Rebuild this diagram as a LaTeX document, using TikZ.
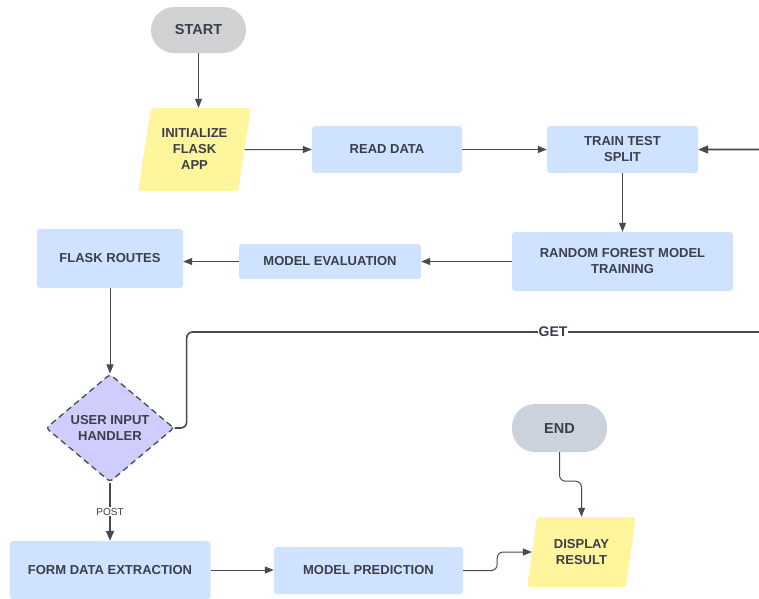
\documentclass[tikz,border=0pt]{standalone}
\usepackage{fontspec}
\setmainfont{Liberation Sans}
\usetikzlibrary{positioning,arrows.meta,shapes.geometric}

\definecolor{boxblue}{RGB}{207,226,255}
\definecolor{ioyellow}{RGB}{255,245,157}
\definecolor{startgray}{RGB}{208,209,211}
\definecolor{endgray}{RGB}{204,210,219}
\definecolor{declav}{RGB}{207,205,252}
\definecolor{textdark}{RGB}{58,63,74}
\definecolor{linedark}{RGB}{68,74,84}

\begin{document}
\begin{tikzpicture}[
  x=1pt,y=-1pt,
  txt/.style={font=\bfseries\fontsize{13}{16}\selectfont,text=textdark,align=center},
  process/.style={txt,rectangle,rounded corners=3pt,fill=boxblue,inner sep=2pt},
  terminal/.style={rectangle,rounded corners=23pt,fill=startgray,font=\bfseries\fontsize{14.5}{17}\selectfont,text=textdark,inner sep=2pt},
  io/.style={txt,trapezium,trapezium left angle=77,trapezium right angle=103,trapezium stretches=true,rounded corners=3pt,fill=ioyellow,inner sep=1pt},
  decision/.style={txt,diamond,rounded corners=3pt,fill=declav,draw=linedark,line width=1.3pt,dash pattern=on 6pt off 4pt,inner sep=1pt},
  lbl/.style={fill=white,inner sep=1pt,text=textdark},
  every edge/.style={draw=linedark,line width=1pt,-{Triangle[length=9pt,width=7pt]}},
  flow/.style={draw=linedark,line width=1pt,-{Triangle[length=9pt,width=7pt]}},
]
  \useasboundingbox (0,0) rectangle (759,598);

  % Top row
  \node[terminal,minimum width=95,minimum height=46] (start) at (198.5,30) {START};
  \node[io,minimum width=113,minimum height=83] (init) at (194.5,149.5) {INITIALIZE\\FLASK\\APP};
  \node[process,minimum width=150,minimum height=47] (read) at (387,149.5) {READ DATA};
  \node[process,minimum width=151,minimum height=47] (split) at (622.5,149.5) {TRAIN TEST\\SPLIT};

  % Training row
  \node[process,minimum width=221,minimum height=59] (train) at (622.5,261.5) {RANDOM FOREST MODEL\\TRAINING};
  \node[process,minimum width=182,minimum height=35] (eval) at (330,261.5) {MODEL EVALUATION};
  \node[process,minimum width=146,minimum height=59] (routes) at (110,258.5) {FLASK ROUTES};

  % Request handling
  \node[decision,minimum width=128,minimum height=104] (handler) at (110,428) {USER INPUT\\HANDLER};
  \node[process,minimum width=201,minimum height=58] (extract) at (110,570) {FORM DATA EXTRACTION};
  \node[process,minimum width=189,minimum height=47] (predict) at (368.5,570.5) {MODEL PREDICTION};
  \node[io,minimum width=109,minimum height=70] (display) at (581.5,552) {DISPLAY\\RESULT};
  \node[terminal,fill=endgray,minimum width=95,minimum height=48] (stop) at (559.5,428) {END};

  % Edges: setup
  \path (start.south) edge (start.south |- init.north);
  \path (init.east) edge (read.west);
  \path (read.east) edge (split.west);
  \path (split.south) edge (train.north);
  \path (train.west) edge (eval.east);
  \path (eval.west) edge (eval.west -| routes.east);
  \path (routes.south) edge (handler.north);

  % Edges: POST branch
  \path (handler.south) edge[line width=2pt,-{Triangle[length=10pt,width=8pt]}] node[lbl,font=\fontsize{10}{12}\selectfont] (post) {POST} (extract.north);
  \path (extract.east) edge (extract.east -| predict.west);
  \draw[flow,rounded corners=6pt] (predict.east) -- ++(34,0) |- (display.west);
  \draw[flow,rounded corners=6pt] (stop.south) -- ++(0,29) -| (display.north);

  % Edges: GET loop back to split
  \draw[flow,line width=1.6pt,-{Triangle[length=10pt,width=8pt]},rounded corners=6pt] (handler.east) -- ++(12,0) |- (800,332) |- (split.east);
  \node[lbl,font=\bfseries\fontsize{14}{16}\selectfont] (get) at (553,332) {GET};
\end{tikzpicture}
\end{document}
